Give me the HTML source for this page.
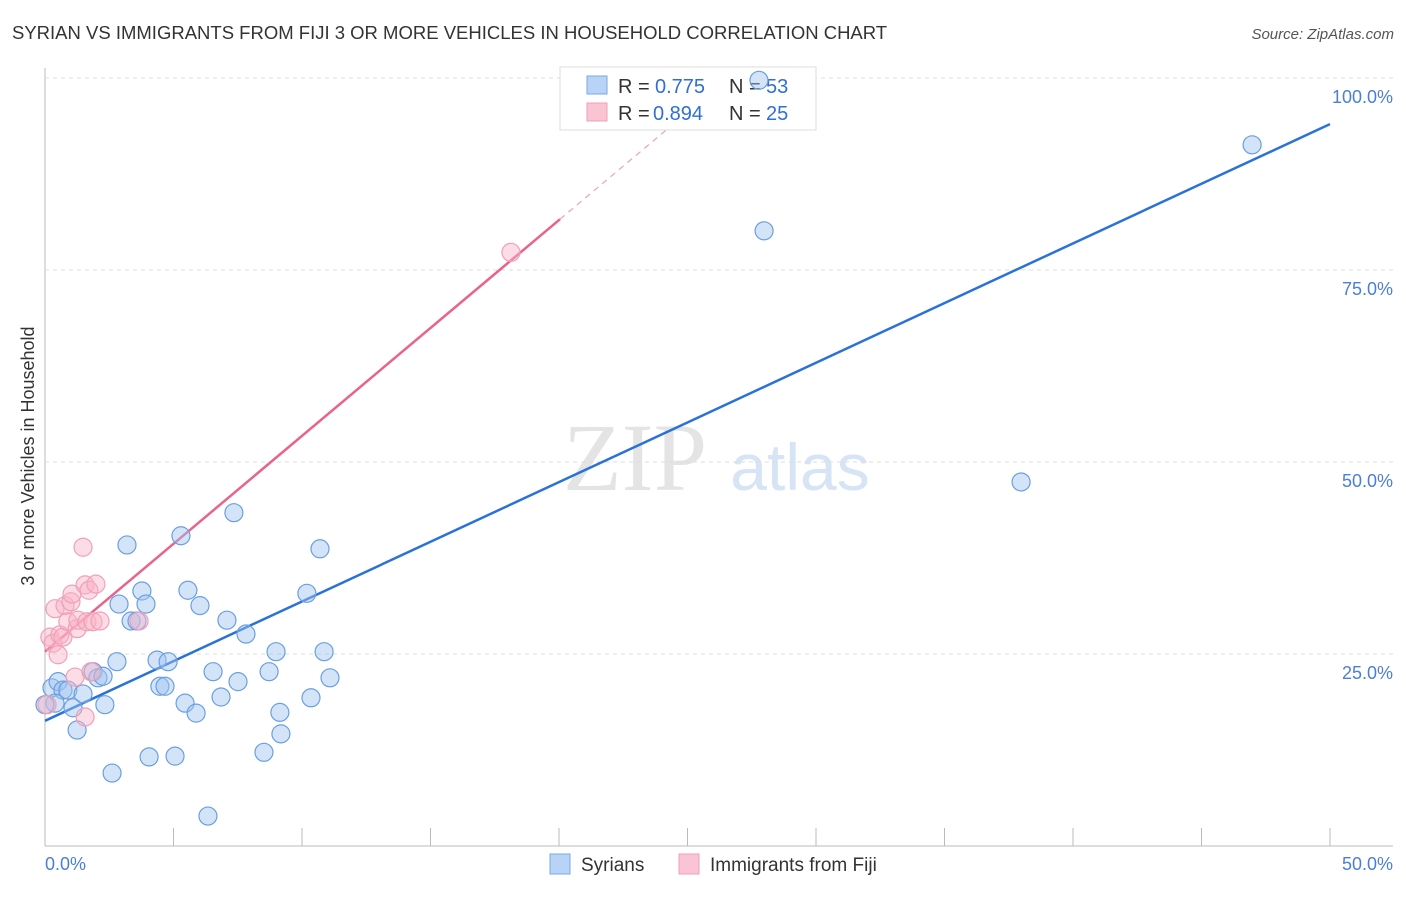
<!DOCTYPE html>
<html><head><meta charset="utf-8"><style>
body{margin:0;background:#fff;font-family:"Liberation Sans",sans-serif}
</style></head><body>
<svg width="1406" height="892" xmlns="http://www.w3.org/2000/svg" id="chart">
<text x="12" y="39" font-size="18.5" fill="#333">SYRIAN VS IMMIGRANTS FROM FIJI 3 OR MORE VEHICLES IN HOUSEHOLD CORRELATION CHART</text>
<text x="1394" y="39" font-size="15" fill="#555" font-style="italic" text-anchor="end">Source: ZipAtlas.com</text>
<text x="635" y="490" font-size="96" fill="#e4e4e4" font-family="Liberation Serif,serif" text-anchor="middle">ZIP</text>
<text x="800" y="490" font-size="66" fill="#d6e4f6" text-anchor="middle">atlas</text>
<text transform="translate(34,456) rotate(-90)" font-size="18" fill="#333" text-anchor="middle">3 or more Vehicles in Household</text>
<g id="grid"></g><g id="lines"></g>
<g>
<rect x="560" y="67" width="256" height="63" fill="#fff" stroke="#ddd"/>
<rect x="587" y="76" width="20" height="18" fill="#b8d3f6" stroke="#7aa8e6"/>
<rect x="587" y="103" width="20" height="18" fill="#fac4d4" stroke="#f0a0b8"/>
<text x="618" y="93" font-size="20" fill="#333">R =</text><text x="655" y="93" font-size="20" fill="#2f6fd6">0.775</text>
<text x="729" y="93" font-size="20" fill="#333">N =</text><text x="766" y="93" font-size="20" fill="#2f6fd6">53</text>
<text x="618" y="120" font-size="20" fill="#333">R =</text><text x="653" y="120" font-size="20" fill="#2f6fd6">0.894</text>
<text x="729" y="120" font-size="20" fill="#333">N =</text><text x="766" y="120" font-size="20" fill="#2f6fd6">25</text>
</g>
<g id="pts"></g>
<g>
<rect x="550" y="854" width="20" height="20" fill="#b8d3f6" stroke="#7aa8e6"/>
<text x="581" y="871" font-size="19" fill="#333">Syrians</text>
<rect x="679" y="854" width="20" height="20" fill="#fac4d4" stroke="#f0a0b8"/>
<text x="710" y="871" font-size="19" fill="#333">Immigrants from Fiji</text>
</g>
</svg>
<script>
const yTicks=[25,50,75,100];
const yTickLabels=["25.0%","50.0%","75.0%","100.0%"];
const xTickLabels=["0.0%","50.0%"];
const blueX=[0.27,0.51,0.70,0.89,0.39,1.09,1.48,1.25,2.33,1.87,2.06,2.26,2.61,2.80,2.88,3.19,3.35,3.58,3.77,3.93,4.05,4.36,4.47,4.67,4.79,5.06,5.29,5.45,5.56,5.88,6.03,6.34,6.54,6.85,7.08,7.35,7.51,7.82,8.52,8.72,8.99,9.14,9.18,10.19,10.35,10.70,10.86,11.09,27.78,27.98,37.98,46.97,0.0];
const blueY=[20.6,21.4,20.3,20.3,18.6,18.0,19.8,15.1,18.4,22.7,21.9,22.1,9.5,24.0,31.5,39.2,29.3,29.3,33.2,31.5,11.6,24.2,20.8,20.8,24.0,11.7,40.4,18.6,33.3,17.3,31.3,3.9,22.7,19.4,29.4,43.4,21.4,27.6,12.2,22.7,25.3,17.4,14.6,32.9,19.3,38.7,25.3,21.9,99.7,80.1,47.4,91.3,18.4];
const pinkX=[0.08,0.19,0.31,0.39,0.51,0.58,0.70,0.78,0.89,1.01,1.05,1.17,1.25,1.28,1.48,1.56,1.63,1.71,1.79,1.87,1.98,2.14,3.66,1.56,18.13];
const pinkY=[18.4,27.2,26.4,30.9,24.9,27.5,27.2,31.3,29.2,31.8,32.8,22.0,28.3,29.4,38.9,34.0,29.2,33.3,22.7,29.2,34.1,29.3,29.3,16.8,77.3];
const blueTrend=[16.3,94.0];
const pinkTrend=[25.3,2.81];
const X0=45,X1=1330,Y0=846,Y100=78;
const sx=v=>X0+(X1-X0)*v/50, sy=v=>Y0-(Y0-Y100)*v/100;
const NS="http://www.w3.org/2000/svg";
function mk(t,a,p){const e=document.createElementNS(NS,t);for(const k in a)e.setAttribute(k,a[k]);p.appendChild(e);return e;}
const grid=document.getElementById('grid');
const ax=mk('line',{x1:X0,y1:68,x2:X0,y2:Y0,stroke:'#bbb'},grid);

const bx=mk('line',{x1:X0,y1:Y0,x2:1393,y2:Y0,stroke:'#bbb'},grid);

yTicks.forEach((t,i)=>{
 const g=mk('line',{x1:X0,y1:sy(t),x2:1393,y2:sy(t),stroke:'#ddd','stroke-dasharray':'4,4'},grid);
 
 const l=mk('text',{x:1393,y:sy(t)+25,'font-size':18,fill:'#4a7fd8','text-anchor':'end'},grid);
 l.textContent=yTickLabels[i];
 
});
for(let i=0;i<=10;i++){const x=sx(i*5);
 const t=mk('line',{x1:x,y1:828,x2:x,y2:Y0,stroke:'#bbb'},grid);
 }
[[0,'start',45],[50,'end',1393]].forEach((d,i)=>{
 const l=mk('text',{x:d[2],y:870,'font-size':18,fill:'#4a7fd8','text-anchor':d[1]},grid);
 l.textContent=xTickLabels[i];
 });
const pts=document.getElementById('pts');
blueX.forEach((x,i)=>{const c=mk('circle',{cx:sx(x),cy:sy(blueY[i]),r:9,fill:'rgba(160,196,240,0.45)',stroke:'#6a9fe0','stroke-width':1.2},pts);
 });
pinkX.forEach((x,i)=>{const c=mk('circle',{cx:sx(x),cy:sy(pinkY[i]),r:9,fill:'rgba(248,180,200,0.45)',stroke:'#f0a0b8','stroke-width':1.2},pts);
 });
const ln=document.getElementById('lines');
const b=mk('line',{x1:sx(0),y1:sy(blueTrend[0]),x2:sx(50),y2:sy(blueTrend[1]),stroke:'#2a72d8','stroke-width':2.5},ln);

const pe=20.04;
const p=mk('line',{x1:sx(0),y1:sy(pinkTrend[0]),x2:sx(pe),y2:sy(pinkTrend[0]+pinkTrend[1]*pe),stroke:'#e8648c','stroke-width':2.5},ln);

const xe=(100-pinkTrend[0])/pinkTrend[1];
const pd=mk('line',{x1:sx(pe),y1:sy(pinkTrend[0]+pinkTrend[1]*pe),x2:sx(xe),y2:sy(100),stroke:'#f0a0b8','stroke-width':1.2,'stroke-dasharray':'6,5'},ln);

</script>
</body></html>
